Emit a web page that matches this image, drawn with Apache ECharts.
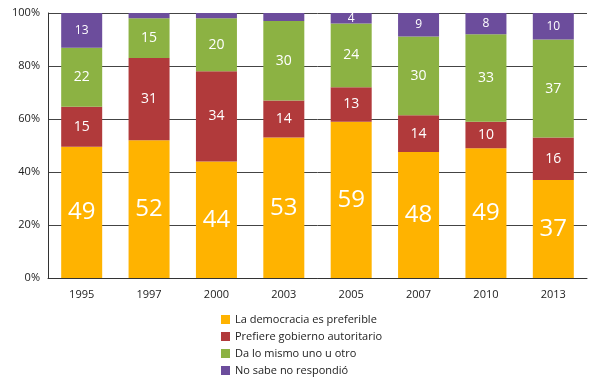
<!DOCTYPE html>
<html><head><meta charset="utf-8">
<script src="https://cdn.jsdelivr.net/npm/echarts@6/dist/echarts.min.js"></script>
<style>html,body{margin:0;padding:0;background:#fff}#c{width:601px;height:388px}</style>
</head><body><div id="c"></div>
<script>
const categories = ['1995','1997','2000','2003','2005','2007','2010','2013'];
const democracia = [49,52,44,53,59,48,49,37];
const autoritario = [15,31,34,14,13,14,10,16];
const daLoMismo = [22,15,20,30,24,30,33,37];
const noSabe = [13,2,2,3,4,9,8,10];
const noSabeShown = [true,false,false,false,true,true,true,true];
const yTicks = [0,20,40,60,80,100];
const seriesNames = ['La democracia es preferible','Prefiere gobierno autoritario','Da lo mismo uno u otro','No sabe no respondió'];
const colors = ['#FFB300','#B13A3B','#8CB243','#6C4D9C'];

const raw = [democracia, autoritario, daLoMismo, noSabe];
const totals = categories.map((_, i) => raw.reduce((s, a) => s + a[i], 0));
const labelSizes = [24, 14, 14, 12];
const series = raw.map((arr, k) => ({
  name: seriesNames[k],
  type: 'bar',
  stack: 'total',
  barWidth: 41,
  itemStyle: { color: colors[k] },
  data: arr.map((v, i) => ({
    value: v / totals[i] * 100,
    raw: v,
    label: { show: k !== 3 || noSabeShown[i] }
  })),
  label: {
    show: true,
    position: 'inside',
    color: '#fff',
    fontFamily: 'Open Sans',
    fontSize: labelSizes[k],
    formatter: p => String(p.data.raw)
  }
}));

const chart = echarts.init(document.getElementById('c'), null, { renderer: 'canvas' });
chart.setOption({
  animation: false,
  color: colors,
  grid: { left: 48, right: 14, top: 13, bottom: 110 },
  legend: {
    orient: 'vertical',
    left: 216,
    top: 314,
    height: 80,
    itemWidth: 9,
    itemHeight: 9,
    itemGap: 6,
    icon: 'rect',
    padding: [0, 5],
    textStyle: { fontFamily: 'Open Sans', fontSize: 11, color: '#222', lineHeight: 10 },
    data: seriesNames
  },
  xAxis: {
    type: 'category',
    data: categories,
    axisLine: { lineStyle: { color: '#333' } },
    axisTick: { show: false },
    axisLabel: { fontFamily: 'Open Sans', fontSize: 11, color: '#222', margin: 11 }
  },
  yAxis: {
    type: 'value',
    min: 0, max: 100, interval: 20,
    axisLine: { show: true, lineStyle: { color: '#333' } },
    axisTick: { show: false },
    splitLine: { lineStyle: { color: '#444' } },
    axisLabel: { fontFamily: 'Open Sans', fontSize: 11, color: '#222', margin: 8,
      formatter: v => yTicks.includes(v) ? v + '%' : '' }
  },
  series: series
});
</script></body></html>
